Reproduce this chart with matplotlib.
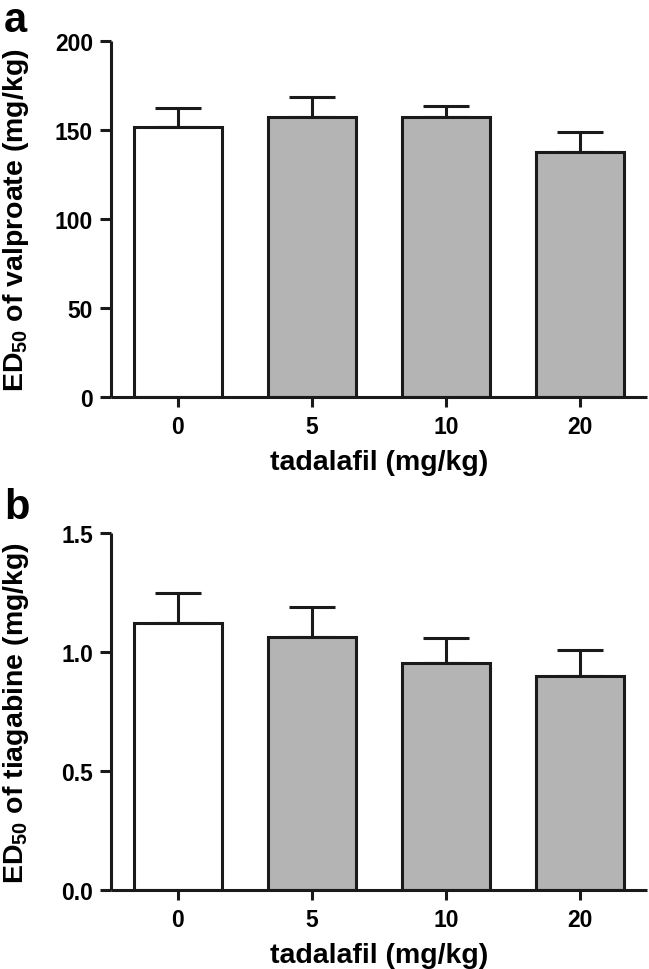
import matplotlib
matplotlib.use('Agg')
import matplotlib.pyplot as plt

# data
doses = ['0', '5', '10', '20']
valproate_ed50 = [152.0, 157.5, 157.3, 137.9]
valproate_sem = [10.6, 10.9, 6.3, 10.9]
tiagabine_ed50 = [1.124, 1.066, 0.955, 0.899]
tiagabine_sem = [0.125, 0.124, 0.105, 0.109]

plt.rcParams['font.family'] = ['Liberation Sans', 'DejaVu Sans']
plt.rcParams['font.weight'] = 'bold'
plt.rcParams['mathtext.fontset'] = 'custom'
plt.rcParams['mathtext.rm'] = 'Liberation Sans:bold'
plt.rcParams['mathtext.bf'] = 'Liberation Sans:bold'
plt.rcParams['mathtext.default'] = 'rm'

colors = ['white', '#b4b4b4', '#b4b4b4', '#b4b4b4']
lw = 2.2


def panel(ax, means, sems, ymax, yticks, fmt):
    x = range(len(doses))
    ax.errorbar(x, means, yerr=[[0] * len(sems), sems], fmt='none', ecolor='#1a1a1a',
                elinewidth=lw, capsize=16.5, capthick=lw, zorder=1)
    ax.bar(x, means, width=0.66, color=colors, edgecolor='#1a1a1a', linewidth=lw, zorder=2)
    ax.set_xlim(-0.5, 3.5)
    ax.set_ylim(0, ymax)
    ax.set_yticks(yticks)
    ax.set_yticklabels([fmt % v for v in yticks])
    ax.set_xticks(list(x))
    ax.set_xticklabels(doses)
    for s in ['top', 'right']:
        ax.spines[s].set_visible(False)
    for s in ['left', 'bottom']:
        ax.spines[s].set_linewidth(lw)
        ax.spines[s].set_color('#1a1a1a')
        ax.spines[s].set_capstyle('butt')
    ax.spines['left'].set_bounds(0, ymax)
    ax.tick_params(axis='y', length=8, width=lw, color='#1a1a1a', labelsize=16.5, pad=5)
    ax.tick_params(axis='x', length=7, width=lw, color='#1a1a1a', labelsize=16.5, pad=6)
    ax.set_xlabel('tadalafil (mg/kg)', fontsize=20.5, fontweight='bold', labelpad=8)


fig = plt.figure(figsize=(6.49, 9.70), dpi=100)

ax1 = fig.add_axes([0.171, 0.590, 0.826, 0.3664])
panel(ax1, valproate_ed50, valproate_sem, 200, [0, 50, 100, 150, 200], '%d')

ax2 = fig.add_axes([0.171, 0.0814, 0.826, 0.3678])
panel(ax2, tiagabine_ed50, tiagabine_sem, 1.5, [0.0, 0.5, 1.0, 1.5], '%.1f')

# y labels as figure text so they sit at the left edge like the original
fig.text(0.025, 0.590 + 0.3664 / 2, 'ED$_{50}$ of valproate (mg/kg)', fontsize=20.5,
         fontweight='bold', rotation=90, ha='center', va='center')
fig.text(0.025, 0.0814 + 0.3678 / 2, 'ED$_{50}$ of tiagabine (mg/kg)', fontsize=20.5,
         fontweight='bold', rotation=90, ha='center', va='center')

fig.text(0.006, 0.999, 'a', fontsize=30, fontweight='bold', va='top', ha='left')
fig.text(0.006, 0.497, 'b', fontsize=30, fontweight='bold', va='top', ha='left')

fig.savefig('out.png', dpi=100)
